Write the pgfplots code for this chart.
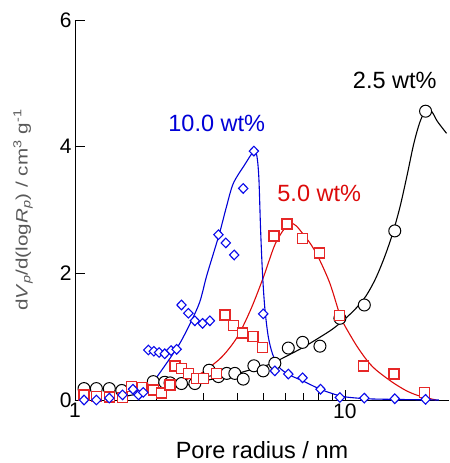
\documentclass[border=0pt]{standalone}
\usepackage{fontspec}
\setmainfont{Liberation Sans}
\usepackage{graphicx}
\usepackage{pgfplots}
\pgfplotsset{compat=1.18}
\definecolor{lred}{RGB}{220,10,10}
\definecolor{mred}{RGB}{230,40,40}
\definecolor{lblue}{RGB}{0,0,215}
\definecolor{mblue}{RGB}{10,10,235}

\begin{document}
\begin{tikzpicture}
\begin{axis}[
  name=ax,
  scale only axis, width=374pt, height=380pt,
  xmode=log, xmin=1, xmax=24.3, ymin=0, ymax=6,
  axis x line=bottom, axis y line=left,
  axis line style={-, line width=0.9pt},
  xtick={1,10}, xticklabels={1,10},
  minor xtick={2,3,4,5,6,7,8,9,20},
  ytick={0,2,4,6},
  tick align=inside, major tick length=10pt, minor tick length=7pt,
  tick style={line width=0.8pt, black},
  tick label style={font=\fontsize{21}{25}\selectfont},
  /pgf/number format/assume math mode=true,
  xlabel={Pore radius / nm},
  x label style={font=\fontsize{23.5}{28}\selectfont, at={(axis description cs:0.5,0)}, anchor=base, yshift=-58pt},
  ylabel={\scalebox{1.25}[1]{d\textit{V}\textsubscript{\textit{p}}/d(log\textit{R}\textsubscript{\textit{p}}) / cm\textsuperscript{3} g\textsuperscript{-1}}},
  y label style={font=\fontsize{16.5}{20}\selectfont, text=black!65, at={(axis description cs:-0.139,0.5)}, anchor=center},
  clip=false,
]
% fitted curves
\addplot[black, line width=1.1pt, smooth] coordinates {
(1.5,0.05) (2,0.15) (2.5,0.22) (3,0.3) (3.5,0.36) (4,0.42) (4.5,0.48) (5,0.53)
(5.5,0.6) (6,0.68) (7,0.83) (8,0.98) (9,1.12) (10,1.28) (11,1.45) (12,1.65)
(13,1.92) (14,2.25) (15,2.62) (16,3.05) (17,3.55) (18,4.05) (19,4.4) (20,4.58)
(21,4.55) (22,4.4) (23.8,4.21)};
\addplot[lred, line width=1.1pt, smooth] coordinates {
(2.5,0.3) (2.8,0.38) (3,0.45) (3.5,0.68) (4,1.0) (4.5,1.45) (5,1.95) (5.5,2.45)
(6,2.72) (6.3,2.79) (6.6,2.75) (7,2.62) (7.5,2.45) (8,2.24) (8.8,1.84) (9.6,1.33)
(10,1.17) (11,0.87) (12,0.64) (13,0.48) (15,0.28) (17,0.14) (19,0.06) (21.8,0.0)};
\addplot[lblue, line width=1.1pt, smooth] coordinates {
(2.0,0.35) (2.2,0.6) (2.45,0.9) (2.7,1.25) (2.9,1.55) (3.07,1.95) (3.25,2.3)
(3.44,2.65) (3.64,3.05) (3.86,3.42) (4.26,3.72) (4.6,3.93) (4.72,3.85) (4.8,3.5)
(4.87,2.7) (4.95,2.0) (5.05,1.45) (5.2,1.0) (5.4,0.72) (5.7,0.52) (6.2,0.4)
(7,0.3) (8,0.18) (9,0.1) (10,0.05) (12,0.02) (15,0.01) (22.3,0.0)};
% measured points
\addplot[only marks, color=black, mark=*, mark size=6pt, mark options={draw=black, fill=white, line width=1pt}] coordinates {
(1.08,0.18) (1.20,0.18) (1.34,0.18) (1.49,0.15) (1.95,0.29) (2.15,0.28) (2.25,0.27)
(2.48,0.26) (2.78,0.26) (3.14,0.47) (3.40,0.37) (3.65,0.42) (3.91,0.42) (4.20,0.33)
(4.60,0.54) (4.98,0.46) (5.50,0.58) (6.17,0.82) (6.97,0.91) (8.08,0.85) (9.58,1.29)
(11.8,1.50) (15.3,2.67) (19.9,4.56)};
\addplot[only marks, color=mred, mark=square*, mark size=5pt, mark options={draw=mred, fill=white, line width=1.4pt}] coordinates {
(1.08,0.08) (1.20,0.06) (1.34,0.05) (1.50,0.04) (1.62,0.21) (1.77,0.20) (1.95,0.16)
(2.09,0.11) (2.25,0.24) (2.35,0.54) (2.48,0.50) (2.63,0.42) (2.82,0.34) (3.00,0.34)
(3.35,0.42) (3.59,1.34) (3.86,1.18) (4.18,1.06) (4.57,1.00) (4.95,0.83) (5.46,2.59)
(6.11,2.78) (6.95,2.55) (8.03,2.32) (9.53,1.33) (11.7,0.54) (15.2,0.41) (19.7,0.12)};
\addplot[only marks, color=mblue, mark=diamond*, mark size=4.8pt, mark options={draw=mblue, fill=white, line width=1.1pt, xscale=1.3}] coordinates {
(1.08,0.0) (1.20,0.0) (1.34,0.03) (1.50,0.08) (1.64,0.17) (1.72,0.08) (1.79,0.12)
(1.87,0.79) (1.96,0.77) (2.05,0.75) (2.15,0.73) (2.27,0.78) (2.38,0.80) (2.48,1.50)
(2.63,1.37) (2.78,1.25) (2.97,1.21) (3.16,1.25) (3.40,2.61) (3.62,2.48) (3.89,2.29)
(4.20,3.34) (4.60,3.93) (4.98,1.36) (5.50,0.46) (6.17,0.41) (6.97,0.35) (8.12,0.17)
(9.58,0.04) (11.8,0.03) (15.3,0.02) (19.9,0.01)};
\node[text=black, font=\fontsize{23.5}{28}\selectfont] at (axis cs:15.3,5.05) {2.5 wt\%};
\node[text=lblue, font=\fontsize{23.5}{28}\selectfont] at (axis cs:3.35,4.37) {10.0 wt\%};
\node[text=lred, font=\fontsize{23.5}{28}\selectfont] at (axis cs:8.03,3.26) {5.0 wt\%};
\end{axis}
\pgfresetboundingbox
\path[use as bounding box] ([shift={(-75pt,-63pt)}]ax.south west) rectangle ([shift={(0pt,20pt)}]ax.north east);
\end{tikzpicture}
\end{document}
